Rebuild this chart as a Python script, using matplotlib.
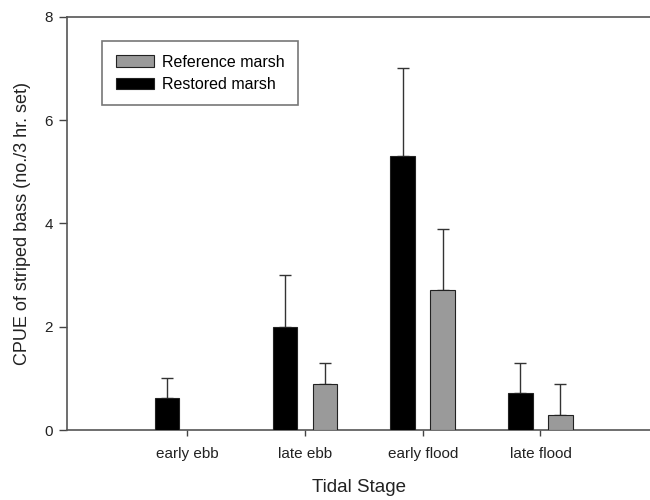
import numpy as np
import matplotlib
matplotlib.use("Agg")
import matplotlib.pyplot as plt
from matplotlib.patches import Patch

plt.rcParams['font.family'] = ['Liberation Sans', 'DejaVu Sans']

stages = ['early ebb', 'late ebb', 'early flood', 'late flood']
restored = [0.62, 2.0, 5.3, 0.72]
restored_err = [0.38, 1.0, 1.7, 0.58]
reference = [0.0, 0.9, 2.71, 0.3]
reference_err = [0.0, 0.4, 1.19, 0.6]

x = np.arange(len(stages))
w = 0.21
off = 0.17

fig = plt.figure(figsize=(6.5, 5), dpi=100)
ax = fig.add_axes([67/650, 1-430/500, 1-67/650, (430-16.7)/500])

ecol = '#333333'
ax.bar(x - off, restored, w, color='black', edgecolor='#222222', linewidth=0.8, zorder=3)
ax.errorbar(x - off, restored, yerr=[np.zeros(4), restored_err], fmt='none',
            ecolor=ecol, elinewidth=1, capsize=4.5, capthick=1, zorder=2)

ref_mask = np.array(reference) > 0
ax.bar(x[ref_mask] + off, np.array(reference)[ref_mask], w, color='#9a9a9a',
       edgecolor='#222222', linewidth=0.8, zorder=3)
ax.errorbar(x[ref_mask] + off, np.array(reference)[ref_mask],
            yerr=[np.zeros(ref_mask.sum()), np.array(reference_err)[ref_mask]],
            fmt='none', ecolor=ecol, elinewidth=1, capsize=4.5, capthick=1, zorder=2)

ax.set_xlim(-1.02, 3.93)
ax.set_ylim(0, 8)
ax.set_yticks([0, 2, 4, 6, 8])
ax.set_xticks(x)
ax.set_xticklabels(stages, fontsize=11, color='#222222')
ax.tick_params(axis='x', length=4, width=1, color='#444444', pad=8)
ax.tick_params(axis='y', length=6, width=1, color='#444444', labelsize=11,
               labelcolor='#222222', pad=4)

for s in ['left', 'bottom', 'top']:
    ax.spines[s].set_color('#555555')
    ax.spines[s].set_linewidth(1.2)
ax.spines['right'].set_visible(False)

ax.set_xlabel('Tidal Stage', fontsize=13.5, color='#222222', labelpad=13)
ax.set_ylabel('CPUE of striped bass (no./3 hr. set)', fontsize=13, color='#222222', labelpad=10)

handles = [Patch(facecolor='#9a9a9a', edgecolor='#222222', linewidth=0.8, label='Reference marsh'),
           Patch(facecolor='black', edgecolor='#222222', linewidth=0.8, label='Restored marsh')]
leg = ax.legend(handles=handles, loc='upper left', bbox_to_anchor=(102/650, 1-41/500),
                bbox_transform=fig.transFigure, fontsize=11.5, frameon=True, fancybox=False,
                handlelength=2.4, handleheight=0.7, handletextpad=0.5, labelspacing=0.45,
                borderpad=0.85, borderaxespad=0)
leg.get_frame().set_edgecolor('#555555')
leg.get_frame().set_linewidth(1.2)

fig.savefig('out.png', dpi=100)
